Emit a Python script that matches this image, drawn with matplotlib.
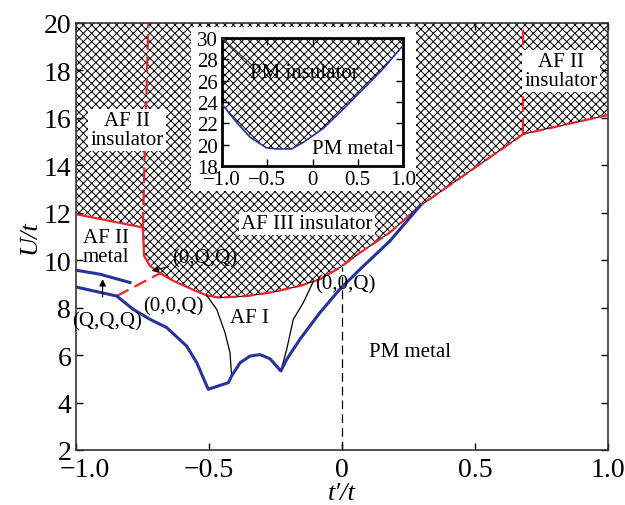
import matplotlib
matplotlib.use("Agg")
import matplotlib.pyplot as plt
from matplotlib.patches import Rectangle
from matplotlib.transforms import ScaledTranslation

plt.rcParams['font.family'] = ['Liberation Serif', 'DejaVu Serif']
plt.rcParams['hatch.linewidth'] = 0.7

RED = '#e8262b'
BLUE = '#27339a'

# lower edge of the hatched (insulating) region
bound_t = [-1.0, -0.749, -0.744, -0.722, -0.684, -0.634, -0.559, -0.509, -0.459, -0.358,
           -0.258, -0.158, -0.083, -0.008, 0.068, 0.18, 0.293, 0.682, 1.0]
bound_u = [11.94, 11.38, 10.18, 9.76, 9.45, 9.13, 8.75, 8.52, 8.42, 8.49,
           8.66, 8.92, 9.2, 9.69, 10.32, 11.17, 12.29, 15.32, 16.12]

# AF II insulator / AF III insulator separations
left_vert_t = [-0.749, -0.728]
left_vert_u = [11.38, 20.0]
right_vert_t = [0.682, 0.682]
right_vert_u = [15.32, 20.0]

# blue lines
upper_blue_t = [-1.0, -0.91, -0.797]
upper_blue_u = [9.58, 9.41, 9.06]
lower_blue_t = [-1.0, -0.847, -0.785, -0.722, -0.659, -0.584, -0.546, -0.503, -0.427, -0.415,
                -0.383, -0.346, -0.308, -0.271, -0.23, -0.208, -0.158, -0.083, -0.008, 0.068,
                0.18, 0.293]
lower_blue_u = [8.87, 8.49, 7.93, 7.51, 7.16, 6.38, 5.68, 4.56, 4.84, 5.12,
                5.68, 5.96, 6.02, 5.85, 5.33, 5.82, 6.67, 7.79, 8.78, 9.62,
                10.81, 12.29]

# red dashed line inside AF II metal
metal_t = [-0.847, -0.684]
metal_u = [8.49, 9.45]

# thin black lines around AF I
afi_left_t = [-0.509, -0.471, -0.44, -0.421, -0.415]
afi_left_u = [8.52, 7.93, 6.95, 6.1, 5.12]
afi_right_t = [-0.23, -0.208, -0.183, -0.145, -0.108]
afi_right_u = [5.33, 6.24, 7.51, 8.22, 9.1]

# inset: PM insulator / PM metal boundary
inset_t = [-1.0, -0.84, -0.69, -0.51, -0.40, -0.23, -0.105, 0.116, 0.337, 0.558, 0.779, 1.0]
inset_u = [23.8, 22.1, 20.7, 19.7, 19.6, 19.6, 20.2, 21.5, 23.3, 25.2, 27.1, 29.3]

xticks = [-1.0, -0.5, 0.0, 0.5, 1.0]
xticklabels = ['\u22121.0', '\u22120.5', '0', '0.5', '1.0']
yticks = [2, 4, 6, 8, 10, 12, 14, 16, 18, 20]
inset_yticks = [18, 20, 22, 24, 26, 28, 30]

fig = plt.figure(figsize=(6.25, 5.06), dpi=100)
ax = fig.add_axes([0.1216, 0.1087, 0.8512, 0.8439])

# hatched region
ax.fill(bound_t + [1.0, -1.0], bound_u + [20.0, 20.0], facecolor='white',
        edgecolor='black', hatch='xxxx', linewidth=0, zorder=1)

# boundary lines
ax.plot(bound_t[:8], bound_u[:8], color=RED, lw=1.6, zorder=4)
ax.plot(bound_t[7:], bound_u[7:], color='black', lw=0.8, zorder=4)
ax.plot(bound_t[7:], bound_u[7:], color=RED, lw=1.6, dashes=(6, 2), zorder=4)
ax.plot(left_vert_t, left_vert_u, color=RED, lw=1.6, dashes=(7, 3), zorder=2)
ax.plot(right_vert_t, right_vert_u, color=RED, lw=1.6, dashes=(7, 3), zorder=2)
ax.plot(metal_t, metal_u, color=RED, lw=1.6, dashes=(6, 3), zorder=4)

ax.plot(upper_blue_t, upper_blue_u, color=BLUE, lw=2.2, zorder=5)
ax.plot(lower_blue_t, lower_blue_u, color=BLUE, lw=2.2, zorder=5)

ax.plot(afi_left_t, afi_left_u, color='black', lw=0.9, zorder=4)
ax.plot(afi_right_t, afi_right_u, color='black', lw=0.9, zorder=4)
ax.plot([0, 0], [2, 9.72], color='black', lw=0.9, dashes=(7, 4), zorder=3)

# white area behind the inset
ax.add_patch(Rectangle((-0.568, 12.91), 0.846, 6.92, facecolor='white',
                       edgecolor='none', zorder=6))

box = dict(facecolor='white', edgecolor='none', pad=1.5)
fs = 15
ax.text(-0.808, 15.5, 'AF II\ninsulator', fontsize=fs, ha='center', va='center',
        linespacing=1.0, bbox=box, zorder=7)
ax.text(0.823, 17.97, 'AF II\ninsulator', fontsize=fs, ha='center', va='center',
        linespacing=1.0, bbox=box, zorder=7)
ax.text(-0.132, 11.56, 'AF III insulator', fontsize=fs, ha='center', va='center',
        bbox=box, zorder=7)
ax.text(-0.887, 10.55, 'AF II\nmetal', fontsize=fs, ha='center', va='center',
        linespacing=1.0, zorder=7)
ax.text(-0.346, 7.58, 'AF I', fontsize=fs, ha='center', va='center', zorder=7)
ax.text(0.256, 6.16, 'PM metal', fontsize=fs, ha='center', va='center', zorder=7)
ax.text(-0.635, 8.07, '(0,0,Q)', fontsize=fs, ha='center', va='center', zorder=7)
ax.text(0.011, 9.0, '(0,0,Q)', fontsize=fs, ha='center', va='center', zorder=7)
ax.text(-0.885, 7.43, '(Q,Q,Q)', fontsize=fs, ha='center', va='center', zorder=7)
ax.annotate('(0,Q,Q)', xy=(-0.716, 9.55), xytext=(-0.64, 10.1), fontsize=fs,
            ha='left', va='center', zorder=7,
            arrowprops=dict(arrowstyle='-|>', color='black', lw=0.8,
                            mutation_scale=10, shrinkA=0, shrinkB=0))
ax.annotate('', xy=(-0.9, 9.2), xytext=(-0.9, 8.45), zorder=7,
            arrowprops=dict(arrowstyle='-|>', color='black', lw=0.8,
                            mutation_scale=10, shrinkA=0, shrinkB=0))

ax.set_xlim(-1.0, 1.0)
ax.set_ylim(2, 20)
ax.set_xticks(xticks)
ax.set_xticklabels(xticklabels)
ax.set_yticks(yticks)
ax.tick_params(direction='in', top=True, right=True, labelsize=20, length=5, width=1)
ax.tick_params(axis='y', pad=3.5)
ax.tick_params(axis='x', pad=5)
for s in ax.spines.values():
    s.set_linewidth(1.2)
    s.set_color('#333333')
ax.set_xlabel("t\u2032/t", fontsize=19, style='italic', labelpad=0)
ax.set_ylabel('U/t', fontsize=19, style='italic', labelpad=2)

# the first x tick label sits a little to the right, clear of the "2"
first = ax.get_xticklabels()[0]
first.set_transform(first.get_transform() + ScaledTranslation(0.09, 0, fig.dpi_scale_trans))

# inset
ins = fig.add_axes([0.3552, 0.670, 0.2896, 0.253])
ins.fill(inset_t + [1.0, -1.0], inset_u + [30.0, 30.0], facecolor='white',
         edgecolor='black', hatch='xxxx', linewidth=0, zorder=1)
ins.plot(inset_t, inset_u, color=BLUE, lw=1.2, zorder=3)
ins.plot([-1.0, -0.69], [30.0, 27.6], color='#444444', lw=1.0, zorder=3)
ins.text(-0.09, 26.8, 'PM insulator', fontsize=fs, ha='center', va='center', zorder=4)
ins.text(0.45, 19.6, 'PM metal', fontsize=fs, ha='center', va='center', zorder=4)
ins.set_xlim(-1.0, 1.0)
ins.set_ylim(18, 30)
ins.set_xticks(xticks)
ins.set_xticklabels(xticklabels)
ins.set_yticks(inset_yticks)
ins.tick_params(direction='in', top=True, right=True, labelsize=15, length=5, width=1,
                pad=3)
for s in ins.spines.values():
    s.set_linewidth(2)
ins.set_zorder(8)

fig.savefig('out.png', dpi=100)
